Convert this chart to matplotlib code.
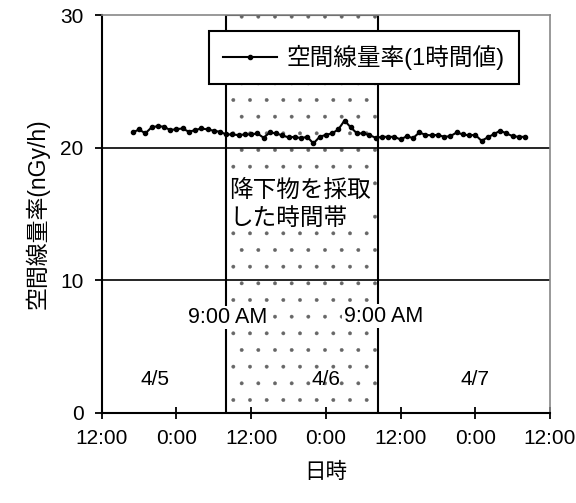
import numpy as np
import matplotlib.pyplot as plt

plt.rcParams['font.family'] = ['Liberation Sans', 'Noto Sans CJK JP']
plt.rcParams['hatch.linewidth'] = 0.3

# hours counted from 4/4 12:00
hours = np.arange(5, 69)
dose = [21.15, 21.38, 21.08, 21.53, 21.63, 21.58, 21.33, 21.40, 21.45, 21.20,
        21.33, 21.45, 21.38, 21.28, 21.20, 21.00, 21.00, 20.95, 21.00, 21.00,
        21.08, 20.75, 21.15, 21.08, 20.93, 20.78, 20.82, 20.72, 20.82, 20.32,
        20.82, 20.97, 21.08, 21.38, 22.05, 21.53, 21.08, 21.08, 20.95, 20.75,
        20.82, 20.82, 20.82, 20.62, 20.87, 20.72, 21.15, 20.97, 20.93, 20.97,
        20.82, 20.87, 21.15, 21.00, 20.93, 20.97, 20.52, 20.78, 21.03, 21.28,
        21.08, 20.87, 20.82, 20.82]

xtick_pos = [0, 12, 24, 36, 48, 60, 72]
xtick_labels = ['12:00', '0:00', '12:00', '0:00', '12:00', '0:00', '12:00']
ytick_pos = [0, 10, 20, 30]

sample_start, sample_end = 20, 44.4
date_labels = ['4/5', '4/6', '4/7']
date_pos = [8.6, 36, 60]

fig = plt.figure(figsize=(5.76, 5.03), dpi=100)
ax = fig.add_axes([0.1766, 0.179, 0.7783, 0.791])

# sampling period: dotted fill + black outline
ax.axvspan(sample_start, sample_end, facecolor='white', edgecolor='#666666',
           hatch='.', lw=0, zorder=1)
ax.axvspan(sample_start, sample_end, fill=False, edgecolor='black',
           lw=1.5, zorder=2)

for yv in [10, 20]:
    ax.axhline(yv, color='black', lw=1.2, zorder=2)

ax.plot(hours, dose, color='black', lw=1.5, marker='o', ms=3,
        label='空間線量率(1時間値)', zorder=3)

box = dict(facecolor='white', edgecolor='none', pad=1)
ax.text(sample_start + 0.5, 17.6, '降下物を採取\nした時間帯', fontsize=17,
        ha='left', va='top', linespacing=1.35, bbox=box, zorder=4)
ax.text(20.3, 7.2, '9:00 AM', fontsize=15.5, ha='center',
        va='center', bbox=box, zorder=4)
ax.text(45.2, 7.3, '9:00 AM', fontsize=15.5, ha='center',
        va='center', bbox=box, zorder=4)
for lbl, xp in zip(date_labels, date_pos):
    ax.text(xp, 2.5, lbl, fontsize=15, ha='center', va='center', zorder=4)

ax.set_xlim(0, 72)
ax.set_ylim(0, 30)
ax.set_xticks(xtick_pos)
ax.set_xticklabels(xtick_labels)
ax.set_yticks(ytick_pos)
ax.tick_params(axis='x', direction='inout', length=9, width=1.3,
               labelsize=15, pad=7)
ax.tick_params(axis='y', direction='out', length=5, width=1.3,
               labelsize=15, pad=8)

ax.spines['left'].set_linewidth(1.5)
ax.spines['bottom'].set_linewidth(1.5)
ax.spines['top'].set_color('#888888')
ax.spines['right'].set_color('#888888')
ax.spines['top'].set_linewidth(1.2)
ax.spines['right'].set_linewidth(1.2)

ax.set_xlabel('日時', fontsize=15.5, labelpad=10)
ax.set_ylabel('空間線量率(nGy/h)', fontsize=16.5, labelpad=8)

leg = ax.legend(loc='upper right', bbox_to_anchor=(0.957, 0.99),
                fontsize=17, frameon=True, fancybox=False, framealpha=1,
                edgecolor='black', handlelength=2.3, handletextpad=0.4,
                borderpad=0.6)
leg.get_frame().set_linewidth(1.5)
leg.set_zorder(5)

fig.savefig('out.png', dpi=100)
